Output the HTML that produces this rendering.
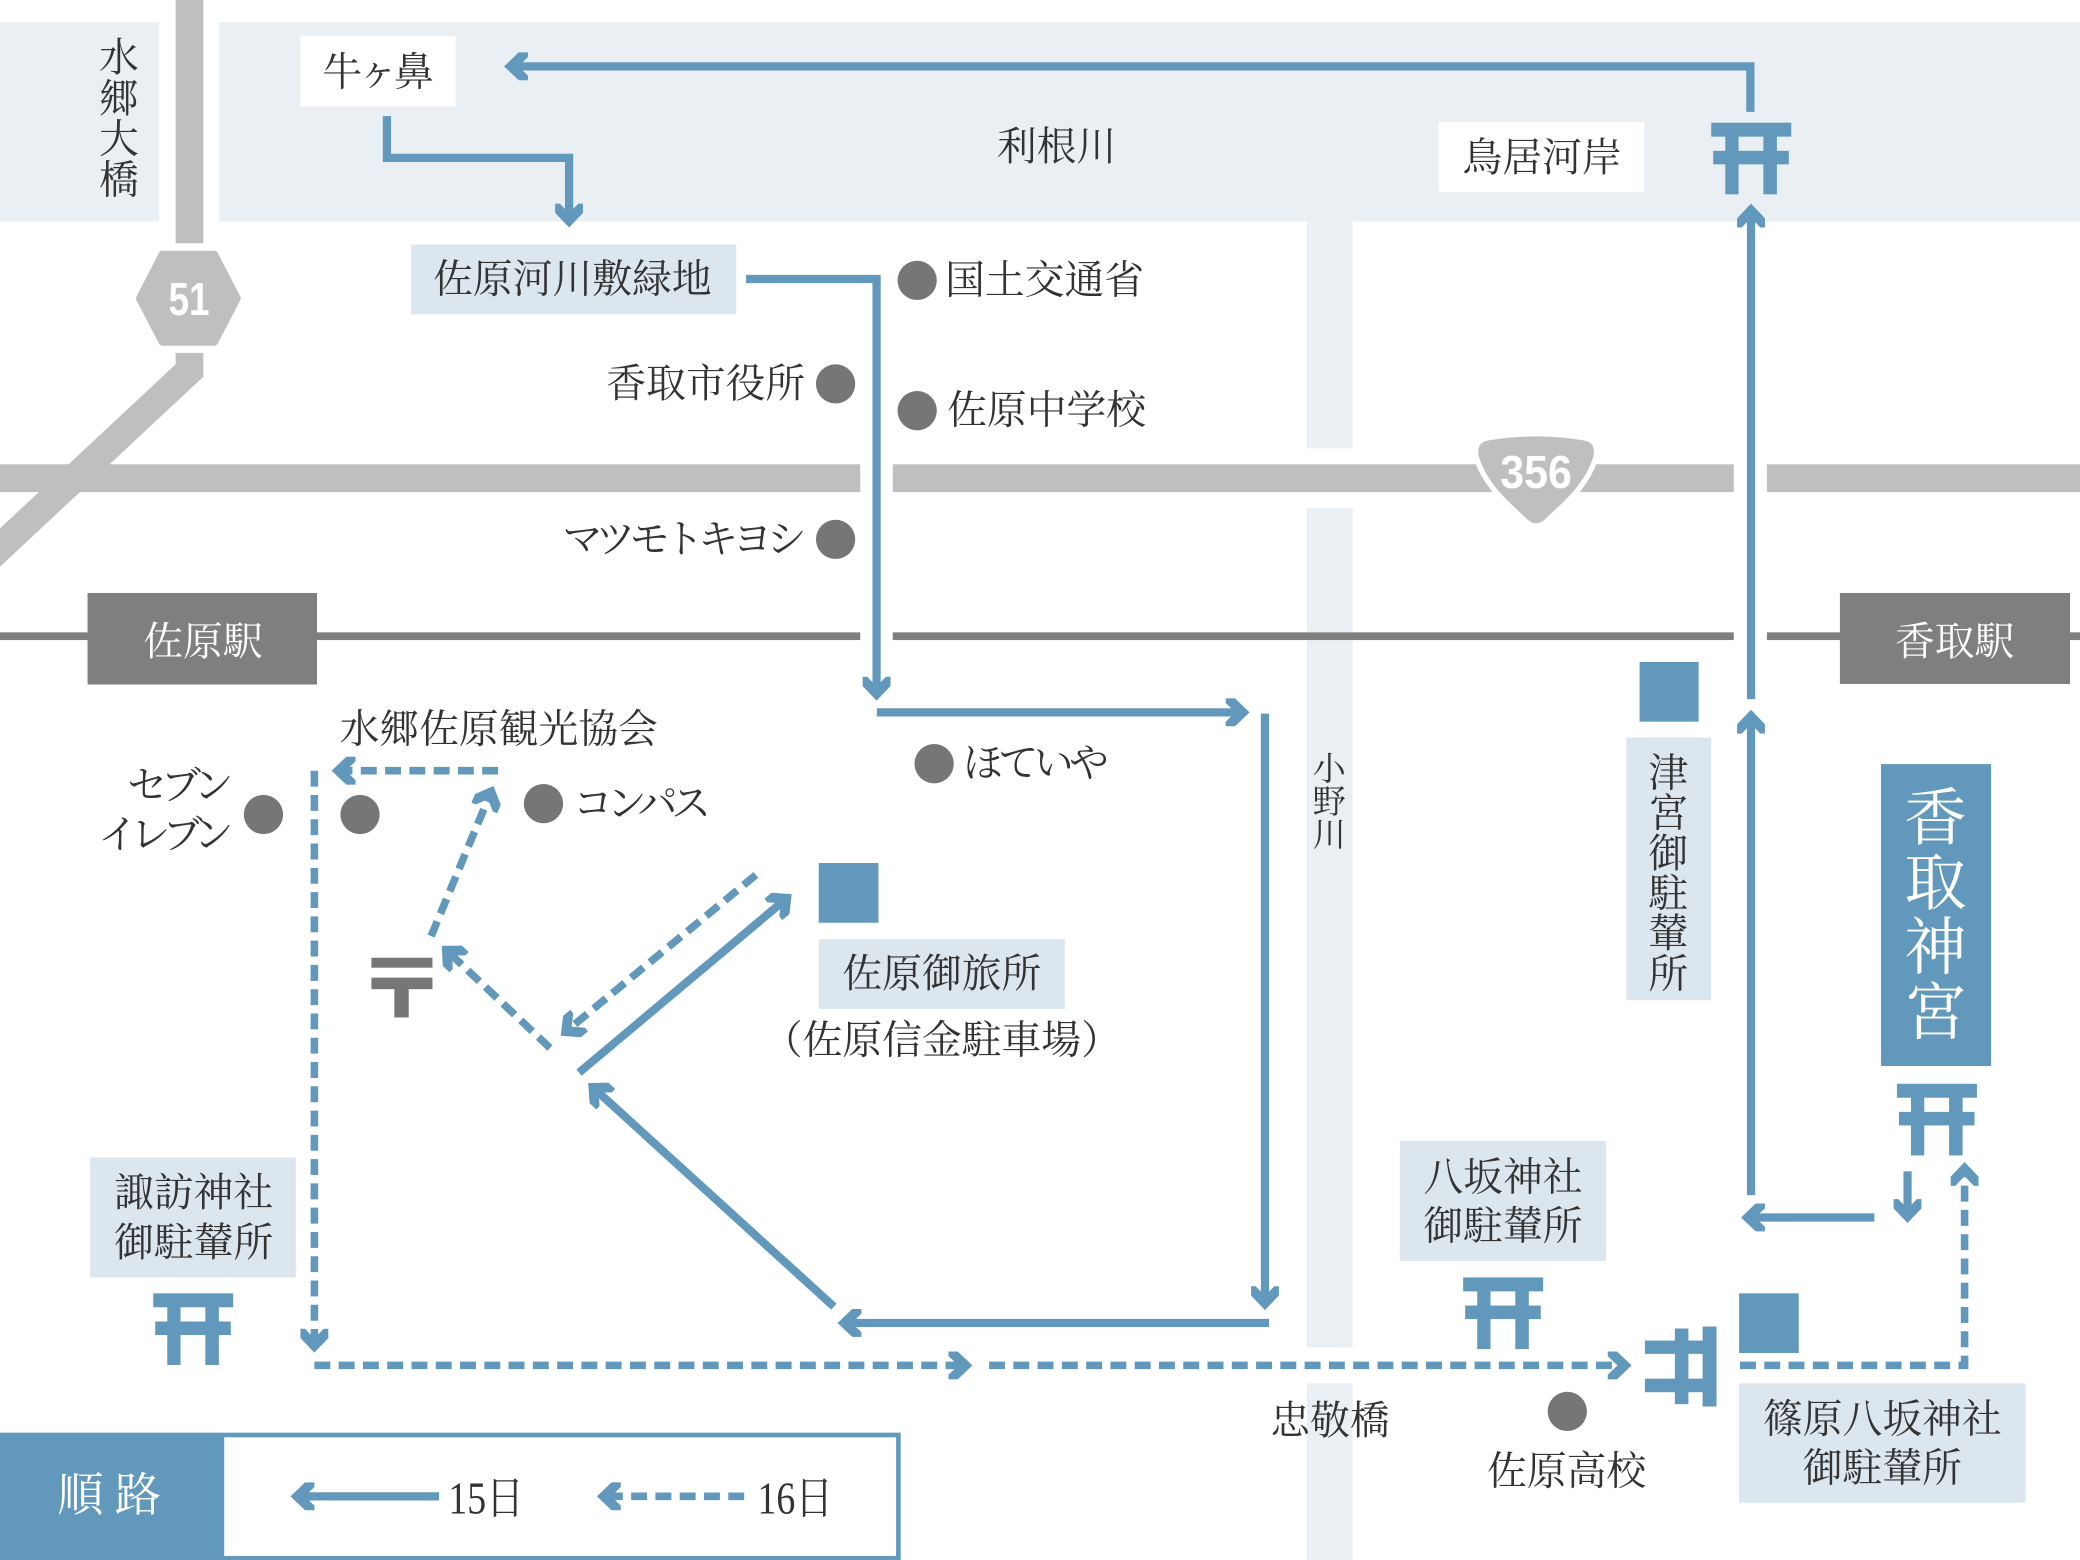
<!DOCTYPE html>
<html><head><meta charset="utf-8">
<style>
html,body{margin:0;padding:0;background:#fff;}
svg{display:block;}
text{font-family:"Liberation Serif","Noto Serif CJK SC","Noto Serif CJK JP",serif;fill:#333;}
.w{fill:#fff;}
.n{font-family:"Liberation Sans",sans-serif;font-weight:bold;fill:#fff;}
</style></head><body>
<svg xmlns="http://www.w3.org/2000/svg" width="2080" height="1560" viewBox="0 0 1568 1176">
<defs>
<path id="ah" d="M0,0 L-11,-10.5 L-18,-10.5 L-18,-7 L-10.7,0 L-18,7 L-18,10.5 L-11,10.5 Z" fill="#6298bb"/>
<g id="torii" fill="#6298bb">
<rect x="0" y="0" width="60.3" height="10.5"/>
<rect x="1.5" y="21.2" width="57" height="10.2"/>
<rect x="10.6" y="10" width="10" height="44"/>
<rect x="39.3" y="10" width="10.2" height="44"/>
</g>
</defs>
<rect x="0" y="0" width="1568" height="1176" fill="#fff"/>

<!-- river -->
<rect x="0" y="16.7" width="120" height="150.3" fill="#eaeff3"/>
<rect x="165" y="16.7" width="1403" height="150.3" fill="#eaeff3"/>
<!-- Ono river -->
<rect x="985.3" y="166" width="34.4" height="172" fill="#eaeff3"/>
<rect x="985.3" y="383" width="34.4" height="632.7" fill="#eaeff3"/>
<rect x="985.3" y="1042.8" width="34.4" height="133.2" fill="#eaeff3"/>

<!-- roads -->
<g fill="#bfbfbf">
<rect x="132.4" y="0" width="20.9" height="183.4"/>
<polygon points="132.4,266 153.3,266 153.3,284 0,427.2 0,398.3 132.4,274.6"/>
<rect x="0" y="350" width="648.5" height="21"/>
<rect x="673" y="350" width="634" height="21"/>
<rect x="1332" y="350" width="236" height="21"/>
<polygon points="122.5,192 161.5,192 178.5,225 161.5,257.6 122.5,257.6 105.5,225" stroke="#bfbfbf" stroke-width="6" stroke-linejoin="round"/>
</g>
<path d="M1122,330 Q1158,324 1194,330 Q1206,332 1203,345 C1196,368 1176,383 1166,393 Q1158,400 1150,393 C1140,383 1120,368 1113,345 Q1110,332 1122,330 Z" fill="#bfbfbf" stroke="#fff" stroke-width="4"/>
<text class="n" x="142.5" y="237.5" font-size="35" text-anchor="middle" textLength="31" lengthAdjust="spacingAndGlyphs">51</text>
<text class="n" x="1158" y="368" font-size="35" text-anchor="middle" textLength="54" lengthAdjust="spacingAndGlyphs">356</text>

<!-- rail -->
<g fill="#7f7f7f">
<rect x="0" y="476.7" width="648.5" height="5.8"/>
<rect x="673" y="476.7" width="634" height="5.8"/>
<rect x="1332" y="476.7" width="236" height="5.8"/>
<rect x="66" y="447" width="173" height="69"/>
<rect x="1387" y="447" width="173.5" height="68.6"/>
</g>
<text class="w" x="153" y="484" font-size="30" text-anchor="middle" dominant-baseline="central">佐原駅</text>
<text class="w" x="1473.5" y="484" font-size="30" text-anchor="middle" dominant-baseline="central">香取駅</text>

<!-- boxes -->
<rect x="226.5" y="27" width="117" height="53.2" fill="#fff"/>
<rect x="1084.5" y="92" width="155" height="52.6" fill="#fff"/>
<g fill="#dce6ee">
<rect x="310" y="184.4" width="245" height="52.6"/>
<rect x="617.2" y="708" width="185.5" height="52.7"/>
<rect x="1226" y="556" width="64" height="198"/>
<rect x="1055.4" y="860" width="155.3" height="90.6"/>
<rect x="1311" y="1042.8" width="216" height="90"/>
<rect x="68" y="872.6" width="155" height="90.4"/>
</g>
<rect x="1418" y="576" width="83" height="227.6" fill="#6298bb"/>

<!-- squares -->
<g fill="#6298bb">
<rect x="617.2" y="650.6" width="45" height="45"/>
<rect x="1236" y="499" width="44.5" height="45"/>
<rect x="1311" y="975" width="45" height="45"/>
</g>

<!-- torii -->
<use href="#torii" transform="translate(1290,92.5)"/>
<use href="#torii" transform="translate(1430,817)"/>
<use href="#torii" transform="translate(1103,963)"/>
<use href="#torii" transform="translate(115.5,975)"/>
<use href="#torii" transform="translate(1294,1000) rotate(90)"/>

<!-- post -->
<g fill="#767676">
<rect x="280" y="722" width="46" height="7.5"/>
<rect x="280" y="737" width="46" height="8.7"/>
<rect x="297.3" y="745" width="10.8" height="22"/>
</g>

<!-- dots -->
<g fill="#767676">
<circle cx="691.4" cy="211.4" r="14.8"/>
<circle cx="629.9" cy="289.4" r="14.8"/>
<circle cx="691.4" cy="309.6" r="14.8"/>
<circle cx="629.9" cy="406.6" r="14.8"/>
<circle cx="198.6" cy="614" r="14.8"/>
<circle cx="271.4" cy="614" r="14.8"/>
<circle cx="409.7" cy="605.8" r="14.8"/>
<circle cx="704.2" cy="575.7" r="14.8"/>
<circle cx="1181.5" cy="1064" r="14.8"/>
</g>

<!-- solid route -->
<g fill="none" stroke="#6298bb" stroke-width="6.2">
<path d="M1319.5,84.3 V50 H387"/>
<path d="M291.7,87.5 V119 H429 V165"/>
<path d="M562.4,210.3 H660.8 V522"/>
<path d="M661,537 H936"/>
<path d="M953.6,538 V982"/>
<path d="M956.7,997.3 H637"/>
<path d="M628.6,985 L447.8,820.5"/>
<path d="M436.5,808.6 L592.2,677.9"/>
<path d="M1320,900.9 V541"/>
<path d="M1320,527 V159.5"/>
<path d="M1413,917.8 H1318.5"/>
<path d="M1438,883 V916"/>
</g>
<use href="#ah" transform="translate(380,50) rotate(180)"/>
<use href="#ah" transform="translate(429,171.5) rotate(90)"/>
<use href="#ah" transform="translate(660.8,528.2) rotate(90)"/>
<use href="#ah" transform="translate(942,537)"/>
<use href="#ah" transform="translate(953.6,987.6) rotate(90)"/>
<use href="#ah" transform="translate(631.4,997.3) rotate(180)"/>
<use href="#ah" transform="translate(443.4,816.5) rotate(-137.7)"/>
<use href="#ah" transform="translate(596.8,674) rotate(-40)"/>
<use href="#ah" transform="translate(1320,535) rotate(-90)"/>
<use href="#ah" transform="translate(1320,153.5) rotate(-90)"/>
<use href="#ah" transform="translate(1312.5,917.8) rotate(180)"/>
<use href="#ah" transform="translate(1438,922) rotate(90)"/>

<!-- dashed route -->
<g fill="none" stroke="#6298bb" stroke-width="5.7" stroke-dasharray="12 6.3">
<path d="M569.8,659.6 L427.3,777"/>
<path d="M414.6,790 L337.4,717.1"/>
<path d="M325,705.7 L369.7,598"/>
<path d="M375.5,581 H256"/>
<path d="M237,581 V1013.7"/>
<path d="M237,1029.3 H727"/>
<path d="M745.6,1029.3 H1224"/>
<path d="M1311.7,1029.3 H1481 V882"/>
</g>
<use href="#ah" transform="translate(422.7,780.8) rotate(140.5)"/>
<use href="#ah" transform="translate(333,713) rotate(-136.7)"/>
<use href="#ah" transform="translate(372,592.5) rotate(-67.45)"/>
<use href="#ah" transform="translate(250,581) rotate(180)"/>
<use href="#ah" transform="translate(237,1019.7) rotate(90)"/>
<use href="#ah" transform="translate(733,1029.3)"/>
<use href="#ah" transform="translate(1230,1029.3)"/>
<use href="#ah" transform="translate(1481,876) rotate(-90)"/>

<!-- legend -->
<rect x="0" y="1080" width="679" height="96" fill="#6298bb"/>
<rect x="169" y="1083.5" width="506.5" height="89.5" fill="#fff"/>
<path d="M331,1128 H225" stroke="#6298bb" stroke-width="6.2"/>
<use href="#ah" transform="translate(219,1128) rotate(180)"/>
<path d="M561,1128 H456" stroke="#6298bb" stroke-width="5.7" stroke-dasharray="12 6.3"/>
<use href="#ah" transform="translate(450,1128) rotate(180)"/>
<text class="w" x="60.7" y="1128.3" font-size="35" text-anchor="middle" dominant-baseline="central">順</text>
<text class="w" x="103.9" y="1128.3" font-size="35" text-anchor="middle" dominant-baseline="central">路</text>
<text x="338" y="1141" font-size="34" textLength="57" lengthAdjust="spacingAndGlyphs">15日</text>
<text x="571" y="1141" font-size="34" textLength="57" lengthAdjust="spacingAndGlyphs">16日</text>

<!-- labels -->
<g font-size="30" dominant-baseline="central">
<text x="89.6" y="43.8" text-anchor="middle" dominant-baseline="central">水</text>
<text x="89.6" y="74.5" text-anchor="middle" dominant-baseline="central">郷</text>
<text x="89.6" y="105.2" text-anchor="middle" dominant-baseline="central">大</text>
<text x="89.6" y="136" text-anchor="middle" dominant-baseline="central">橋</text>

<text x="243" y="54.5" dominant-baseline="central" textLength="84" lengthAdjust="spacing">牛ヶ鼻</text>
<text x="796.5" y="111" text-anchor="middle" dominant-baseline="central">利根川</text>
<text x="1162.5" y="119" text-anchor="middle" dominant-baseline="central">鳥居河岸</text>
<text x="431.5" y="210.7" text-anchor="middle" dominant-baseline="central">佐原河川敷緑地</text>
<text x="712.5" y="211.4" dominant-baseline="central">国土交通省</text>
<text x="607" y="289.4" text-anchor="end" dominant-baseline="central">香取市役所</text>
<text x="714" y="309.6" dominant-baseline="central">佐原中学校</text>
<text x="424" y="406.6" dominant-baseline="central" textLength="184" lengthAdjust="spacing">マツモトキヨシ</text>
<text x="256" y="550" dominant-baseline="central">水郷佐原観光協会</text>
<text x="96" y="592.6" dominant-baseline="central" textLength="80" lengthAdjust="spacing">セブン</text>
<text x="74" y="629.6" dominant-baseline="central" textLength="102" lengthAdjust="spacing">イレブン</text>
<text x="432" y="606" dominant-baseline="central" textLength="104" lengthAdjust="spacing">コンパス</text>
<text x="726" y="575.7" dominant-baseline="central" textLength="110" lengthAdjust="spacing">ほていや</text>
<text x="710" y="734.4" text-anchor="middle" dominant-baseline="central">佐原御旅所</text>
<text x="710" y="784.3" text-anchor="middle" dominant-baseline="central">（佐原信金駐車場）</text>

<text x="1257.6" y="583" text-anchor="middle" dominant-baseline="central">津</text>
<text x="1257.6" y="613.3" text-anchor="middle" dominant-baseline="central">宮</text>
<text x="1257.6" y="643.6" text-anchor="middle" dominant-baseline="central">御</text>
<text x="1257.6" y="673.9" text-anchor="middle" dominant-baseline="central">駐</text>
<text x="1257.6" y="704.2" text-anchor="middle" dominant-baseline="central">輦</text>
<text x="1257.6" y="734.5" text-anchor="middle" dominant-baseline="central">所</text>

<text x="1133" y="887.5" text-anchor="middle" dominant-baseline="central">八坂神社</text>
<text x="1133" y="924.7" text-anchor="middle" dominant-baseline="central">御駐輦所</text>
<text x="1419" y="1070" text-anchor="middle" dominant-baseline="central">篠原八坂神社</text>
<text x="1419" y="1107" text-anchor="middle" dominant-baseline="central">御駐輦所</text>
<text x="146" y="899.4" text-anchor="middle" dominant-baseline="central">諏訪神社</text>
<text x="146" y="937" text-anchor="middle" dominant-baseline="central">御駐輦所</text>
<text x="1002.6" y="1071.3" text-anchor="middle" dominant-baseline="central">忠敬橋</text>
<text x="1181" y="1109.4" text-anchor="middle" dominant-baseline="central">佐原高校</text>
</g>
<g font-size="25">
<text x="1002" y="580" text-anchor="middle" dominant-baseline="central">小</text>
<text x="1002" y="605" text-anchor="middle" dominant-baseline="central">野</text>
<text x="1002" y="630" text-anchor="middle" dominant-baseline="central">川</text>
</g>
<g font-size="47">
<text class="w" x="1459" y="617.5" text-anchor="middle" dominant-baseline="central">香</text>
<text class="w" x="1459" y="666.3" text-anchor="middle" dominant-baseline="central">取</text>
<text class="w" x="1459" y="715.1" text-anchor="middle" dominant-baseline="central">神</text>
<text class="w" x="1459" y="764" text-anchor="middle" dominant-baseline="central">宮</text>
</g>
</svg>
</body></html>
